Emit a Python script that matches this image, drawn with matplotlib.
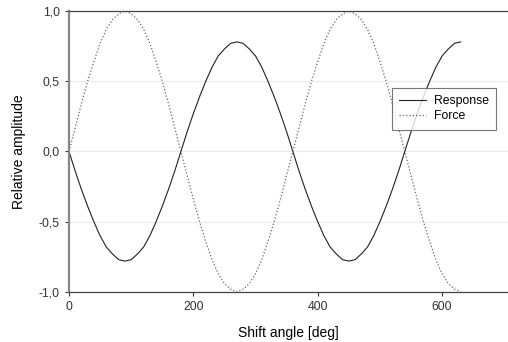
import matplotlib
matplotlib.use("Agg")
import matplotlib.pyplot as plt

plt.rcParams["font.family"] = ["Liberation Sans", "DejaVu Sans"]

angle = list(range(0, 631, 10))  # shift angle [deg]
force = [0, .17, .34, .50, .64, .77, .87, .94, .98, 1.00,
         .98, .94, .87, .77, .64, .50, .34, .17, 0,
         -.17, -.34, -.50, -.64, -.77, -.87, -.94, -.98, -1.00,
         -.98, -.94, -.87, -.77, -.64, -.50, -.34, -.17, 0,
         .17, .34, .50, .64, .77, .87, .94, .98, 1.00,
         .98, .94, .87, .77, .64, .50, .34, .17, 0,
         -.17, -.34, -.50, -.64, -.77, -.87, -.94, -.98, -1.00]
response = [0, -.14, -.27, -.39, -.50, -.60, -.68, -.73, -.77, -.78,
            -.77, -.73, -.68, -.60, -.50, -.39, -.27, -.14, 0,
            .14, .27, .39, .50, .60, .68, .73, .77, .78,
            .77, .73, .68, .60, .50, .39, .27, .14, 0,
            -.14, -.27, -.39, -.50, -.60, -.68, -.73, -.77, -.78,
            -.77, -.73, -.68, -.60, -.50, -.39, -.27, -.14, 0,
            .14, .27, .39, .50, .60, .68, .73, .77, .78]

xticks = [0, 200, 400, 600]
yticks = [-1.0, -0.5, 0.0, 0.5, 1.0]
ytick_labels = ["-1,0", "-0,5", "0,0", "0,5", "1,0"]

fig = plt.figure(figsize=(5.08, 3.42), dpi=100)
ax = fig.add_axes([69/508, 1-292/342, 1-69/508, (292-11)/342])

for y in [-0.5, 0.0, 0.5]:
    ax.axhline(y, color="#ececec", lw=0.8, zorder=0)

ax.plot(angle, response, "-", color="#222222", lw=0.8, label="Response")
ax.plot(angle, force, ":", color="#666666", lw=0.9, label="Force")

ax.set_xlim(0, 706)
ax.set_ylim(-1, 1)
ax.set_xticks(xticks)
ax.set_yticks(yticks)
ax.set_yticklabels(ytick_labels)
ax.tick_params(labelsize=8.8, colors="#333333", length=3, width=0.8)

ax.spines["right"].set_visible(False)
ax.spines["top"].set_color("#444444")
ax.spines["top"].set_linewidth(0.9)
ax.spines["bottom"].set_color("#444444")
ax.spines["bottom"].set_linewidth(0.9)
ax.spines["left"].set_color("#888888")
ax.spines["left"].set_linewidth(1.6)

ax.set_xlabel("Shift angle [deg]", fontsize=10, labelpad=9)
ax.set_ylabel("Relative amplitude", fontsize=10, labelpad=9)

leg = ax.legend(loc="upper left", bbox_to_anchor=((392-69)/439, 1 - (88-11)/281),
                bbox_transform=ax.transAxes, fontsize=8.8, fancybox=False,
                handlelength=2.2, borderpad=0.6, labelspacing=0.25,
                handletextpad=0.6, borderaxespad=0)
leg.get_frame().set_edgecolor("#555555")
leg.get_frame().set_linewidth(0.8)

fig.savefig("out.png", dpi=100)
